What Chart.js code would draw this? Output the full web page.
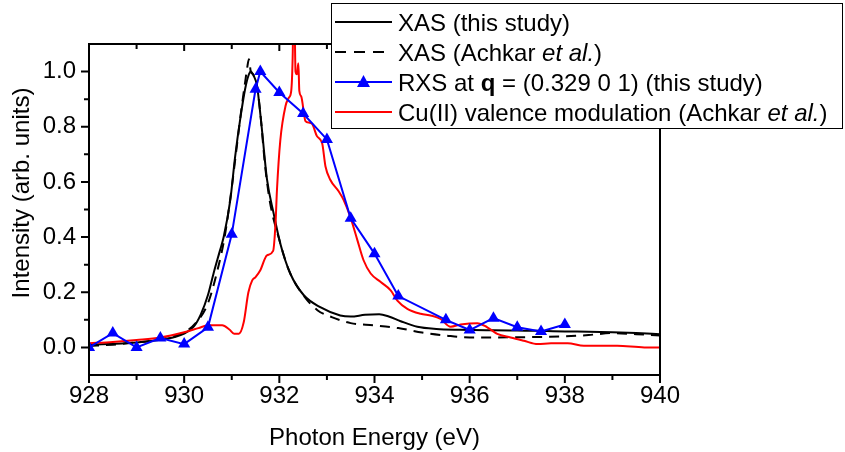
<!DOCTYPE html>
<html>
<head>
<meta charset="utf-8">
<script src="https://cdn.jsdelivr.net/npm/chart.js@4"></script>
<style>
  html, body { margin: 0; padding: 0; background: #fff; }
  #wrap { width: 845px; height: 452px; }
</style>
</head>
<body>
<div id="wrap"><canvas id="chart" width="845" height="452"></canvas></div>
<script>
// x axis ticks (eV) and y axis ticks
let energyTicks = [928, 930, 932, 934, 936, 938, 940];
let energyMinor = [929, 931, 933, 935, 937, 939];
let intensityTicks = [0, 0.2, 0.4, 0.6, 0.8, 1.0];
let intensityMinor = [0.1, 0.3, 0.5, 0.7, 0.9];

// XAS (this study)
let xasEnergy = [928, 928.5, 929, 929.5, 929.8, 930, 930.2, 930.35, 930.5, 930.62, 930.75, 930.83, 930.97, 931.07, 931.18,
    931.28, 931.35, 931.4, 931.46, 931.53, 931.58, 931.64, 931.74, 931.88, 932.02, 932.23, 932.51, 932.86, 933.28, 933.5,
    933.8, 934.1, 934.3, 934.55, 934.9, 935.3, 935.8, 936.5, 937, 937.5, 938, 938.5, 939, 939.5, 940];
let xasIntensity = [0.010, 0.013, 0.018, 0.028, 0.038, 0.050, 0.075, 0.12, 0.19, 0.27, 0.35, 0.40, 0.535, 0.69, 0.83,
    0.936, 0.985, 1.0, 0.985, 0.95, 0.88, 0.78, 0.61, 0.486, 0.377, 0.268, 0.19, 0.146, 0.116, 0.112,
    0.118, 0.12, 0.112, 0.095, 0.075, 0.067, 0.064, 0.062, 0.061, 0.06, 0.058, 0.057, 0.055, 0.052, 0.048];

// XAS (Achkar et al.)
let achkarEnergy = [928, 928.5, 929, 929.5, 930, 930.25, 930.5, 930.7, 930.85, 931.0, 931.1, 931.2, 931.28, 931.33, 931.36,
    931.4, 931.45, 931.52, 931.6, 931.7, 931.8, 932.0, 932.2, 932.5, 932.8, 933.1, 933.5, 934.0, 934.5, 935.0,
    935.5, 936.0, 936.5, 937.0, 937.5, 938.0, 938.5, 939.0, 939.5, 940.0];
let achkarIntensity = [0.005, 0.01, 0.018, 0.03, 0.055, 0.09, 0.16, 0.28, 0.40, 0.58, 0.72, 0.86, 0.96, 1.02, 1.045,
    1.0, 0.99, 0.96, 0.85, 0.66, 0.53, 0.39, 0.28, 0.19, 0.135, 0.11, 0.088, 0.08, 0.07, 0.054,
    0.043, 0.036, 0.036, 0.037, 0.038, 0.04, 0.045, 0.052, 0.048, 0.043];

// RXS at q = (0.329 0 1)
let rxsEnergy = [928, 928.5, 929, 929.5, 930, 930.5, 931, 931.5, 931.6, 932, 932.5, 933, 933.5, 934, 934.5,
    935.5, 936, 936.5, 937, 937.5, 938];
let rxsIntensity = [0.0, 0.052, 0.0, 0.034, 0.012, 0.073, 0.41, 0.936, 1.0, 0.924, 0.848, 0.754, 0.468, 0.34, 0.186,
    0.10, 0.063, 0.106, 0.073, 0.058, 0.083];

// Cu(II) valence modulation (Achkar et al.)
let valenceEnergy = [928, 928.5, 929, 929.5, 930, 930.3, 930.5, 930.8, 930.95, 931.05, 931.15, 931.25, 931.35, 931.43, 931.5,
    931.6, 931.74, 931.87, 931.92, 931.95, 932.02, 932.13, 932.2, 932.25, 932.28, 932.3, 932.32, 932.34, 932.37, 932.4,
    932.42, 932.46, 932.55, 932.62, 932.69, 932.79, 932.9, 932.97, 933.07, 933.25, 933.35, 933.49, 933.64, 933.77, 933.92,
    934.13, 934.34, 934.48, 934.69, 934.97, 935.2, 935.39, 935.6, 935.81, 936.16, 936.37, 936.58, 936.86, 937.14, 937.43,
    937.71, 938.06, 938.4, 939.1, 939.67, 940];
let valenceIntensity = [0.015, 0.02, 0.027, 0.036, 0.055, 0.07, 0.08, 0.08, 0.065, 0.05, 0.05, 0.09, 0.2, 0.243, 0.255,
    0.28, 0.334, 0.35, 0.45, 0.57, 0.75, 0.875, 0.905, 0.93, 1.05, 1.25, 1.2, 1.0, 0.99, 1.03,
    0.93, 0.91, 0.82, 0.815, 0.81, 0.766, 0.74, 0.656, 0.608, 0.565, 0.535, 0.474, 0.389, 0.316, 0.268,
    0.237, 0.207, 0.17, 0.14, 0.122, 0.115, 0.103, 0.075, 0.083, 0.088, 0.073, 0.049, 0.036, 0.024, 0.012,
    0.015, 0.015, 0.006, 0.006, 0.0, 0.0];

const FONT = "'Liberation Sans', Arial, sans-serif";

function toPoints(xs, ys) {
    return xs.map((x, i) => ({x: x, y: ys[i]}));
}

// frame, tick marks and axis titles
let framePlugin = {
    id: 'frame',
    afterDatasetsDraw(chart) {
        const ctx = chart.ctx;
        const a = chart.chartArea;
        const xs = chart.scales.x;
        const ys = chart.scales.y;
        ctx.save();
        ctx.strokeStyle = '#000';
        ctx.lineWidth = 2;
        ctx.strokeRect(a.left, a.top, a.right - a.left, a.bottom - a.top);
        ctx.beginPath();
        energyTicks.forEach(v => {
            let px = xs.getPixelForValue(v);
            ctx.moveTo(px, a.bottom); ctx.lineTo(px, a.bottom + 8);
            ctx.moveTo(px, a.top); ctx.lineTo(px, a.top + 7);
        });
        energyMinor.forEach(v => {
            let px = xs.getPixelForValue(v);
            ctx.moveTo(px, a.bottom); ctx.lineTo(px, a.bottom + 5);
            ctx.moveTo(px, a.top); ctx.lineTo(px, a.top + 5);
        });
        intensityTicks.forEach(v => {
            let py = ys.getPixelForValue(v);
            ctx.moveTo(a.left, py); ctx.lineTo(a.left - 8, py);
        });
        intensityMinor.forEach(v => {
            let py = ys.getPixelForValue(v);
            ctx.moveTo(a.left, py); ctx.lineTo(a.left - 5, py);
        });
        ctx.stroke();

        ctx.fillStyle = '#000';
        ctx.font = '24px ' + FONT;
        ctx.textAlign = 'center';
        ctx.textBaseline = 'alphabetic';
        ctx.fillText('Photon Energy (eV)', (a.left + a.right) / 2, 445);
        ctx.translate(22, 193);
        ctx.rotate(-Math.PI / 2);
        ctx.textBaseline = 'middle';
        ctx.fillText('Intensity (arb. units)', 0, 0);
        ctx.restore();
    }
};

// legend with mixed bold / italic text
let legendPlugin = {
    id: 'mixedLegend',
    afterDraw(chart) {
        const ctx = chart.ctx;
        ctx.save();
        ctx.fillStyle = '#fff';
        ctx.fillRect(331, 3, 512, 125);
        ctx.strokeStyle = '#000';
        ctx.lineWidth = 1;
        ctx.strokeRect(331.5, 3.5, 511, 125);

        let rows = [
            {color: '#000', dash: [], marker: false, parts: [['XAS (this study)', '']]},
            {color: '#000', dash: [11, 8], marker: false, parts: [['XAS (Achkar ', ''], ['et al.', 'italic '], [')', '']]},
            {color: '#0000ff', dash: [], marker: true, parts: [['RXS at ', ''], ['q', 'bold '], [' = (0.329 0 1) (this study)', '']]},
            {color: '#ff0000', dash: [], marker: false, parts: [['Cu(II) valence modulation (Achkar ', ''], ['et al.', 'italic '], [')', '']]}
        ];
        rows.forEach((r, i) => {
            let cy = 22 + i * 30;
            ctx.strokeStyle = r.color;
            ctx.lineWidth = 2;
            ctx.setLineDash(r.dash);
            ctx.beginPath();
            ctx.moveTo(335, cy); ctx.lineTo(392, cy);
            ctx.stroke();
            ctx.setLineDash([]);
            if (r.marker) {
                ctx.fillStyle = r.color;
                ctx.beginPath();
                ctx.moveTo(363.5, cy - 7);
                ctx.lineTo(370, cy + 5);
                ctx.lineTo(357, cy + 5);
                ctx.closePath();
                ctx.fill();
            }
            ctx.fillStyle = '#000';
            ctx.textAlign = 'left';
            ctx.textBaseline = 'alphabetic';
            let tx = 398;
            r.parts.forEach(p => {
                ctx.font = p[1] + '24px ' + FONT;
                ctx.fillText(p[0], tx, cy + 9);
                tx += ctx.measureText(p[0]).width;
            });
        });
        ctx.restore();
    }
};

let chart = new Chart(document.getElementById('chart').getContext('2d'), {
    type: 'scatter',
    data: {
        datasets: [
            {
                label: 'RXS',
                data: toPoints(rxsEnergy, rxsIntensity),
                showLine: true,
                borderColor: '#0000ff',
                backgroundColor: '#0000ff',
                borderWidth: 2,
                pointStyle: 'triangle',
                pointRadius: 7,
                pointBorderWidth: 0
            },
            {
                label: 'Valence',
                data: toPoints(valenceEnergy, valenceIntensity),
                showLine: true,
                borderColor: '#ff0000',
                borderWidth: 2,
                pointRadius: 0,
                cubicInterpolationMode: 'monotone'
            },
            {
                label: 'XAS this study',
                data: toPoints(xasEnergy, xasIntensity),
                showLine: true,
                borderColor: '#000',
                borderWidth: 2,
                pointRadius: 0,
                cubicInterpolationMode: 'monotone'
            },
            {
                label: 'XAS Achkar',
                data: toPoints(achkarEnergy, achkarIntensity),
                showLine: true,
                borderColor: '#000',
                borderDash: [10, 7],
                borderWidth: 2,
                pointRadius: 0,
                cubicInterpolationMode: 'monotone'
            }
        ]
    },
    options: {
        responsive: false,
        animation: false,
        layout: {padding: {top: 44, right: 185, left: 0, bottom: 0}},
        plugins: {legend: {display: false}, tooltip: {enabled: false}},
        scales: {
            x: {
                type: 'linear',
                min: 928,
                max: 940,
                afterBuildTicks: s => { s.ticks = energyTicks.map(v => ({value: v})); },
                afterFit: s => { s.height = 77; },
                grid: {display: false, drawTicks: false},
                border: {display: false},
                ticks: {
                    padding: 7,
                    color: '#000',
                    font: {family: FONT, size: 24},
                    maxRotation: 0,
                    callback: v => String(v)
                }
            },
            y: {
                min: -0.1,
                max: 1.1,
                afterBuildTicks: s => { s.ticks = intensityTicks.map(v => ({value: v})); },
                afterFit: s => { s.width = 89; },
                grid: {display: false, drawTicks: false},
                border: {display: false},
                ticks: {
                    padding: 13,
                    color: '#000',
                    font: {family: FONT, size: 24},
                    callback: v => Number(v).toFixed(1)
                }
            }
        }
    },
    plugins: [framePlugin, legendPlugin]
});
</script>
</body>
</html>
